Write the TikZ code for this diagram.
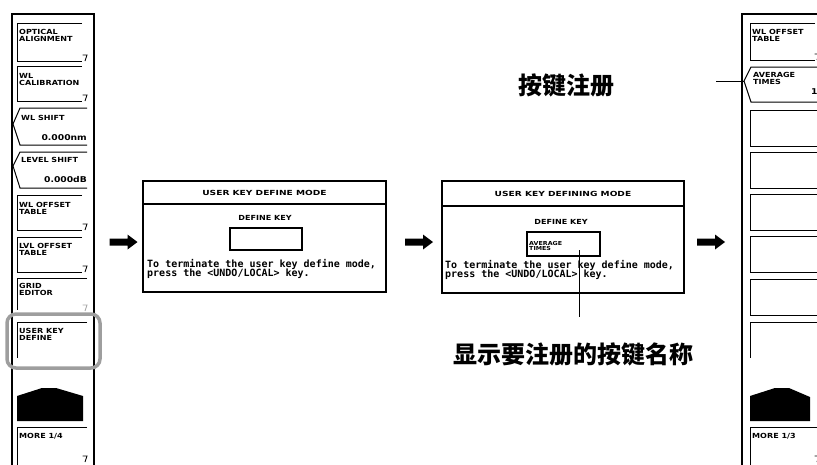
\documentclass[tikz,border=0pt]{standalone}
\usepackage{fontspec}
\newfontfamily\pixfont[FakeStretch=1.15]{DejaVu Sans}
\newfontfamily\ttlfont[FakeStretch=1.3]{DejaVu Sans}
\newfontfamily\dlgfont{DejaVu Sans Mono}
\newfontfamily\cjkfont{Noto Sans CJK SC}
\newcommand{\skbox}[4]{\draw[keyln] (#4,#2) -- (#1,#2) -- (#1,#3) -- (#4,#3);}
\newcommand{\skang}[5]{\draw[keyln] (#5,#2) -- (#1,#2) -- (#1-7,#4) -- (#1,#3) -- (#5,#3);}
\newcommand{\skopen}[3]{\draw[keyln] (#3,#2) -- (#1,#2) -- (#1,#2+36);}
\newcommand{\skmark}[3][black]{\draw[line width=0.9pt,#1] (#2-4.5,#3-6) -- (#2,#3-6) -- (#2-2,#3);}
\tikzset{
  keyln/.style={line width=1pt},
  frameln/.style={line width=1.3pt},
  keytxt/.style={font=\pixfont\bfseries\fontsize{7}{6.8}\selectfont, anchor=north west, inner sep=0pt, align=left},
  valtxt/.style={font=\pixfont\bfseries\fontsize{8}{8}\selectfont, inner sep=0pt},
  dlgbox/.style={line width=1.5pt},
  dlgtitle/.style={font=\ttlfont\bfseries\fontsize{7}{7}\selectfont, inner sep=0pt},
  dlgsub/.style={font=\pixfont\bfseries\fontsize{7}{7}\selectfont, inner sep=0pt},
  dlgtxt/.style={font=\dlgfont\bfseries\fontsize{10}{10}\selectfont, anchor=base west, inner sep=0pt},
  tinytxt/.style={font=\pixfont\bfseries\fontsize{5.5}{4.8}\selectfont, anchor=north west, inner sep=0pt, align=left},
  cjklabel/.style={font=\cjkfont\bfseries\fontsize{24}{24}\selectfont, inner sep=0pt},
  leader/.style={line width=0.8pt},
  blockarrow/.pic={\fill (-14,-3.5) -- (4,-3.5) -- (4,-7.5) -- (14,0) -- (4,7.5) -- (4,3.5) -- (-14,3.5) -- cycle;}
}
\begin{document}
\begin{tikzpicture}[x=1pt,y=-1pt]
\useasboundingbox (0,0) rectangle (817,464);
% ---------- left soft-key column ----------
\draw[frameln] (12,470) -- (12,14) -- (94,14) -- (94,470);
\skbox{17}{23}{61}{82} \skmark{87}{61}
\node[keytxt] (k1) at (19,29) {OPTICAL\\ALIGNMENT};
\skbox{17}{66}{101}{82} \skmark{87}{101}
\node[keytxt] (k2) at (19,73) {WL\\CALIBRATION};
\skang{20}{108}{145}{124}{87}
\node[keytxt] (k3) at (21,115) {WL SHIFT};
\node[valtxt, anchor=base east] (k3v) at (87,140) {0.000nm};
\skang{20}{152}{188}{166}{87}
\node[keytxt] (k4) at (21,157) {LEVEL SHIFT};
\node[valtxt, anchor=base east] (k4v) at (87,182) {0.000dB};
\skbox{17}{195}{230}{82} \skmark{87}{230}
\node[keytxt] (k5) at (19,202) {WL OFFSET\\TABLE};
\skbox{17}{237}{272}{82} \skmark{87}{272}
\node[keytxt] (k6) at (19,243) {LVL OFFSET\\TABLE};
\draw[keyln] (87,278) -- (17,278) -- (17,310);
\skmark[black!35]{87}{311}
\node[keytxt] (k7) at (19,283) {GRID\\EDITOR};
\skopen{17}{322}{87}
\node[keytxt] (k8) at (19,328) {USER KEY\\DEFINE};
\draw[line width=3.5pt, draw=black!38, rounded corners=9pt] (7,314) rectangle (100,368);
\fill (17,421) -- (17,396) -- (42,388) -- (56,388) -- (83,396) -- (83,421) -- cycle;
\draw[keyln] (87,427) -- (17,427) -- (17,470);
\skmark{87}{462}
\node[keytxt] (k9) at (19,433) {MORE 1/4};
% ---------- arrows ----------
\pic at (123.5,242) {blockarrow};
\pic at (419,242) {blockarrow};
\pic at (711,242) {blockarrow};
% ---------- dialog 1 ----------
\draw[dlgbox] (143,181) rectangle (386,292);
\draw[line width=1.8pt] (143,204) -- (386,204);
\node[dlgtitle] (d1t) at (264.5,192.5) {USER KEY DEFINE MODE};
\node[dlgsub] (d1s) at (265,218) {DEFINE KEY};
\node[draw, line width=1.2pt, minimum width=72pt, minimum height=22pt, inner sep=0pt] (d1box) at (266,239) {};
\node[dlgtxt] (d1a) at (147,267) {To terminate the user key define mode,};
\node[dlgtxt] (d1b) at (147,276) {press the <UNDO/LOCAL> key.};
% ---------- dialog 2 ----------
\draw[dlgbox] (442,181) rectangle (684,293);
\draw[line width=1.8pt] (442,206) -- (684,206);
\node[dlgtitle] (d2t) at (563,193.5) {USER KEY DEFINING MODE};
\node[dlgsub] (d2s) at (561,222) {DEFINE KEY};
\node[draw, line width=1.2pt, minimum width=73pt, minimum height=24pt, inner sep=0pt] (d2box) at (563.5,244) {};
\node[tinytxt] (d2k) at (529,241) {AVERAGE\\TIMES};
\node[dlgtxt] (d2a) at (445,268) {To terminate the user key define mode,};
\node[dlgtxt] (d2b) at (445,277) {press the <UNDO/LOCAL> key.};
% ---------- right soft-key column ----------
\draw[frameln] (742,470) -- (742,14) -- (830,14);
\skbox{750}{23}{60}{815} \skmark{819}{60}
\node[keytxt] (r1) at (752,29) {WL OFFSET\\TABLE};
\skang{751}{67}{102}{81}{830}
\coordinate (r2tip) at (744,81);
\node[keytxt] (r2) at (753,72) {AVERAGE\\TIMES};
\node[valtxt, anchor=base west] (r2v) at (811,94) {1};
\skbox{750}{110}{146}{830}
\skbox{750}{152}{188}{830}
\skbox{750}{194}{230}{830}
\skbox{750}{236}{272}{830}
\skbox{750}{279}{315}{830}
\skopen{750}{322}{830}
\fill (750,421) -- (750,396) -- (775,388) -- (789,388) -- (810,397) -- (810,421) -- cycle;
\draw[keyln] (830,427) -- (750,427) -- (750,470);
\skmark{819}{462}
\node[keytxt] (r9) at (752,433) {MORE 1/3};
% ---------- callouts ----------
\node[cjklabel] (lblreg) at (566,85) {按键注册};
\coordinate (ldA) at (716,81);
\draw[leader] (ldA) -- (r2tip);
\node[cjklabel] (lblname) at (573,354) {显示要注册的按键名称};
\coordinate (ldB) at (579,250);
\coordinate (ldC) at (579,317);
\draw[leader] (ldB) -- (ldC);
\end{tikzpicture}
\end{document}
